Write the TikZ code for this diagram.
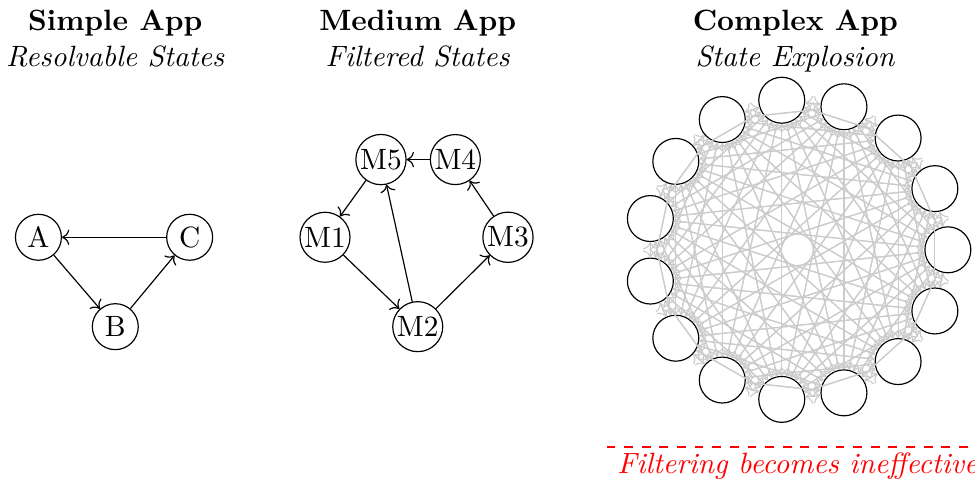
\documentclass[tikz,border=0pt]{standalone}
\usepackage{amsmath,amssymb}
\usepackage{xcolor}
\usepackage{tikz}
\usetikzlibrary{arrows.meta}

\begin{document}
\begin{tikzpicture}[
    >=To,
    state/.style={circle, draw=black, fill=white, minimum size=5.5mm, inner sep=0.5pt},
    apptitle/.style={anchor=north, align=center},
    trans/.style={->, black},
    blowup/.style={->, gray!40},
    warn/.style={dashed, thick, red}
  ]
  \useasboundingbox (0,0) rectangle (11.67,-5.81);

  % Simple app: three states, one cycle
  \node[apptitle] (simple) at (1.38,0) {\textbf{Simple App}\\\textit{Resolvable States}};
  \node[state] (A) at (0.46,-2.84) {A};
  \node[state] (B) at (1.38,-3.91) {B};
  \node[state] (C) at (2.27,-2.84) {C};
  \draw[trans] (A) -- (B);
  \draw[trans] (B) -- (C);
  \draw[trans] (C) -- (A);

  % Medium app: five states
  \node[apptitle] (medium) at (5.00,0) {\textbf{Medium App}\\\textit{Filtered States}};
  \node[state] (M5) at (4.56,-1.91) {M5};
  \node[state] (M4) at (5.45,-1.91) {M4};
  \node[state] (M1) at (3.89,-2.84) {M1};
  \node[state] (M3) at (6.08,-2.84) {M3};
  \node[state] (M2) at (5.00,-3.91) {M2};
  \draw[trans] (M5) -- (M1);
  \draw[trans] (M1) -- (M2);
  \draw[trans] (M2) -- (M5);
  \draw[trans] (M2) -- (M3);
  \draw[trans] (M3) -- (M4);
  \draw[trans] (M4) -- (M5);

  % Complex app: every state reaches every other one
  \node[apptitle] (complex) at (9.52,0) {\textbf{Complex App}\\\textit{State Explosion}};
  \begin{scope}[shift={(9.545,-2.99)}]
    \foreach \k in {1,...,15}
      \node[state] (x\k) at ({24*(\k-1)}:1.80) {};
  \end{scope}
  \foreach \i in {1,...,15}
    \foreach \j in {1,...,15}
      {\ifnum\i=\j\else\draw[blowup] (x\i) -- (x\j);\fi}

  % Warning below the complex app
  \coordinate (cutL) at (7.26,-5.35);
  \coordinate (cutR) at (11.67,-5.35);
  \draw[warn] (cutL) -- (cutR);
  \node[red, font=\itshape] (note) at (9.545,-5.58) {Filtering becomes ineffective};
\end{tikzpicture}
\end{document}
